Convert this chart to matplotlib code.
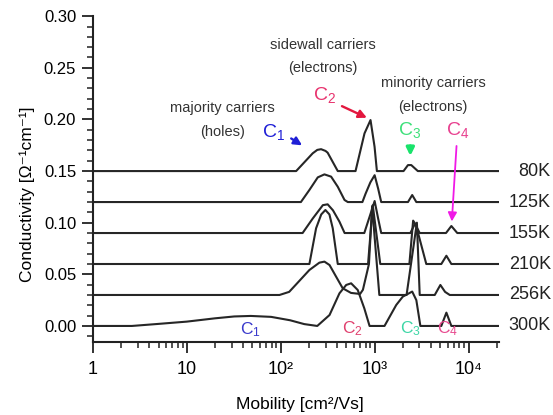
import numpy as np
import matplotlib
matplotlib.use("Agg")
import matplotlib.pyplot as plt
from matplotlib.ticker import MultipleLocator, LogLocator, NullFormatter, FormatStrFormatter

plt.rcParams["font.family"] = ["Liberation Sans", "DejaVu Sans"]
plt.rcParams["mathtext.fontset"] = "custom"
plt.rcParams["mathtext.rm"] = "Liberation Sans"
plt.rcParams["mathtext.it"] = "Liberation Sans:italic"

# temperatures and vertical offsets of each spectrum
temps = ["80K", "125K", "155K", "210K", "256K", "300K"]
offsets = [0.15, 0.12, 0.09, 0.06, 0.03, 0.00]

# mobility spectra, mobility in cm^2/Vs, conductivity in 1/(Ohm cm) (offset included)
mu_80 = [1, 146, 219, 245, 269, 300, 316, 405, 626, 780, 904, 998, 1057,
         2032, 2265, 2455, 2884, 21000]
s_80 = [0.150, 0.150, 0.1672, 0.1705, 0.1712, 0.1695, 0.1678, 0.150, 0.150,
        0.1865, 0.1994, 0.1736, 0.150, 0.150, 0.1558, 0.1558, 0.150, 0.150]

mu_125 = [1, 164, 202, 248, 292, 344, 405, 478, 518, 741, 800, 900, 1000,
          1090, 1175, 2265, 2512, 2780, 21000]
s_125 = [0.12, 0.12, 0.1317, 0.1439, 0.1468, 0.1446, 0.1348, 0.122, 0.12,
         0.12, 0.128, 0.139, 0.146, 0.133, 0.12, 0.12, 0.1268, 0.12, 0.12]

mu_155 = [1, 171, 219, 281, 316, 360, 422, 479, 776, 900, 1000, 1090, 1175,
          2399, 2692, 3020, 5754, 6561, 7586, 21000]
s_155 = [0.09, 0.09, 0.104, 0.117, 0.1178, 0.112, 0.101, 0.09, 0.09, 0.108,
         0.121, 0.104, 0.09, 0.09, 0.099, 0.09, 0.09, 0.0968, 0.09, 0.09]

mu_210 = [1, 202, 238, 270, 299, 330, 358, 405, 851, 955, 1148, 2344, 2570,
          2750, 3548, 5129, 5808, 6561, 21000]
s_210 = [0.06, 0.06, 0.0946, 0.108, 0.1123, 0.108, 0.0946, 0.06, 0.06, 0.117,
         0.06, 0.06, 0.102, 0.098, 0.06, 0.06, 0.068, 0.06, 0.06]

mu_256 = [1, 97, 123, 146, 202, 258, 292, 331, 389, 457, 560, 700, 750, 870,
          940, 1122, 2188, 2818, 3020, 4365, 5012, 5623, 6310, 21000]
s_256 = [0.03, 0.03, 0.033, 0.0403, 0.0542, 0.0613, 0.0623, 0.059, 0.0477,
         0.0365, 0.032, 0.031, 0.035, 0.060, 0.116, 0.03, 0.03, 0.100, 0.03,
         0.03, 0.0397, 0.033, 0.03, 0.03]

mu_300 = [1, 2.6, 5, 10, 20, 32, 48, 79, 126, 178, 245, 331, 422, 498, 562,
          661, 776, 883, 1274, 1698, 1995, 2512, 2780, 3069, 5129, 5808, 6561,
          21000]
s_300 = [0.0, 0.0, 0.002, 0.0042, 0.0074, 0.0092, 0.0097, 0.0088, 0.0055,
         0.0018, 0.0, 0.0106, 0.0316, 0.0397, 0.0413, 0.0348, 0.0171, 0.0, 0.0,
         0.0203, 0.0284, 0.0333, 0.025, 0.0, 0.0, 0.0129, 0.0, 0.0]

mobility = [mu_80, mu_125, mu_155, mu_210, mu_256, mu_300]
conductivity = [s_80, s_125, s_155, s_210, s_256, s_300]

fig = plt.figure(figsize=(5.53, 4.15), dpi=100)
ax = fig.add_axes([0.168, 0.176, 0.734, 0.785])

for mu, s in zip(mobility, conductivity):
    ax.plot(mu, s, color="#262626", lw=1.5, solid_joinstyle="round")

ax.set_xscale("log")
ax.set_xlim(1, 2.1e4)
ax.set_ylim(-0.0155, 0.30)

ax.spines["top"].set_visible(False)
ax.spines["right"].set_visible(False)
for sp in ["left", "bottom"]:
    ax.spines[sp].set_linewidth(1.5)
    ax.spines[sp].set_color("#222222")

ax.yaxis.set_major_locator(MultipleLocator(0.05))
ax.yaxis.set_minor_locator(MultipleLocator(0.01))
ax.yaxis.set_major_formatter(FormatStrFormatter("%.2f"))
ax.set_xticks([1, 10, 100, 1000, 10000])
ax.set_xticklabels(["1", "10", "10²", "10³", "10⁴"])
ax.xaxis.set_minor_locator(LogLocator(base=10, subs=np.arange(2, 10), numticks=20))
ax.xaxis.set_minor_formatter(NullFormatter())

ax.tick_params(axis="both", which="major", direction="out", length=8, width=1.3,
               color="#222222")
ax.tick_params(axis="both", which="minor", direction="out", length=4, width=1.1,
               color="#222222")
ax.tick_params(axis="y", which="major", labelsize=12, pad=4)
ax.tick_params(axis="x", which="major", labelsize=13, pad=6)

ax.set_xlabel("Mobility [cm²/Vs]", fontsize=12.5)
ax.set_ylabel("Conductivity [Ω⁻¹cm⁻¹]", fontsize=12.5)
ax.xaxis.set_label_coords(0.51, -0.17)
ax.yaxis.set_label_coords(-0.142, 0.452)

# temperature labels on the right
for t, off in zip(temps, offsets):
    ax.text(1.128, off, t, transform=ax.get_yaxis_transform(), ha="right",
            va="center", fontsize=13, color="#222222", clip_on=False)

txt = dict(ha="center", va="center", fontsize=10.5, color="#333333")
ax.text(24, 0.211, "majority carriers", **txt)
ax.text(24, 0.188, "(holes)", **txt)
ax.text(281, 0.272, "sidewall carriers", **txt)
ax.text(281, 0.250, "(electrons)", **txt)
ax.text(4200, 0.235, "minority carriers", **txt)
ax.text(4200, 0.212, "(electrons)", **txt)

# carrier labels with arrows
ax.text(83, 0.188, "C$_1$", color="#1f1fd6", fontsize=14, ha="center", va="center")
ax.annotate("", xy=(179, 0.1735), xytext=(122, 0.183),
            arrowprops=dict(arrowstyle="-|>", color="#1f1fd6", lw=1.7,
                            mutation_scale=12))
ax.text(292, 0.2236, "C$_2$", color="#e8336e", fontsize=14, ha="center", va="center")
ax.annotate("", xy=(880, 0.2005), xytext=(422, 0.214),
            arrowprops=dict(arrowstyle="-|>", color="#e3173e", lw=1.7,
                            mutation_scale=12))
ax.text(2357, 0.19, "C$_3$", color="#3de07a", fontsize=14, ha="center", va="center")
ax.annotate("", xy=(2400, 0.162), xytext=(2400, 0.177),
            arrowprops=dict(arrowstyle="-|>", color="#19e36b", lw=2.4,
                            mutation_scale=11))
ax.text(7670, 0.19, "C$_4$", color="#e8408f", fontsize=14, ha="center", va="center")
ax.annotate("", xy=(6610, 0.0985), xytext=(7480, 0.177),
            arrowprops=dict(arrowstyle="-|>", color="#f019e6", lw=1.3,
                            mutation_scale=13))

# labels of the 300K components
ax.text(47, -0.004, "C$_1$", color="#3a3acc", fontsize=12.5, ha="center", va="center")
ax.text(580, -0.003, "C$_2$", color="#e0406e", fontsize=12.5, ha="center", va="center")
ax.text(2415, -0.003, "C$_3$", color="#3dd6a6", fontsize=12.5, ha="center", va="center")
ax.text(6000, -0.003, "C$_4$", color="#e84a8f", fontsize=12.5, ha="center", va="center")

fig.savefig("out.png", dpi=100)
